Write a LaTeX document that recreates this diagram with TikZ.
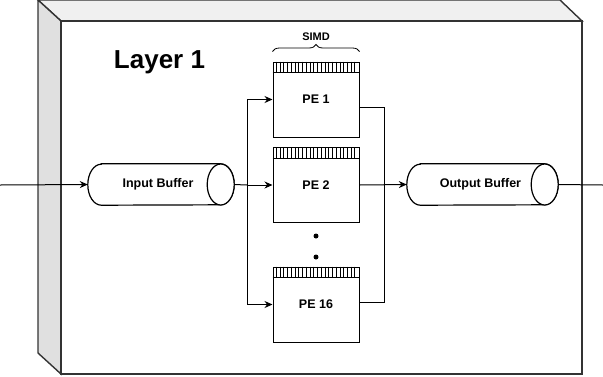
\documentclass[tikz,border=0pt]{standalone}
\usepackage{fontspec}
\setmainfont{Liberation Sans}
\usetikzlibrary{arrows.meta,decorations.pathreplacing,calc}
\definecolor{edge}{HTML}{333333}
\definecolor{topface}{HTML}{F0F0F0}
\definecolor{sideface}{HTML}{E0E0E0}
\tikzset{
  cubeline/.style={draw=edge,line width=1.4pt,line join=miter},
  buffer/.style={rectangle,minimum width=146pt,minimum height=41pt,inner sep=0pt},
  bufline/.style={draw=black,line width=1.2pt,fill=white},
  buftext/.style={font=\bfseries\fontsize{12.5}{14}\selectfont},
  pebox/.style={draw=black,line width=1pt,minimum width=86pt,minimum height=75pt,inner sep=0pt,font=\bfseries\fontsize{12.5}{14}\selectfont,fill=white},
  wire/.style={draw=black,line width=1pt},
  arr/.style={wire,-{Stealth[length=8pt,width=7pt]}},
  dot/.style={circle,fill=black,inner sep=0pt,minimum size=5pt}
}
\newcommand{\drawbuffer}[1]{%
  \path[bufline] ($(#1.north west)+(13.5,0)$) -- ($(#1.north east)+(-13.5,0)$)
    arc[start angle=-90,end angle=90,x radius=13.5,y radius=20.5]
    -- ($(#1.south west)+(13.5,0)$)
    arc[start angle=90,end angle=270,x radius=13.5,y radius=20.5] -- cycle;
  \path[bufline] ($(#1.east)+(-13.5,0)$) ellipse[x radius=13.5,y radius=20.5];
}
\begin{document}
\begin{tikzpicture}[x=1pt,y=-1pt]
\useasboundingbox (0,0) rectangle (603,376);
% cube
\path[cubeline,fill=topface] (38,0) -- (560,0) -- (582,21) -- (61,21) -- cycle;
\path[cubeline,fill=sideface] (38,0) -- (61,21) -- (61,374) -- (38,353) -- cycle;
\path[cubeline,fill=white] (61,21) rectangle (582,374);
\node[font=\bfseries\fontsize{26}{28}\selectfont] (title) at (159.5,62) {Layer 1};
% buffers
\node[buffer] (inb) at (161,184.5) {};
\node[buffer,minimum width=151pt] (outb) at (482.5,184.5) {};
\drawbuffer{inb}
\drawbuffer{outb}
\node[buftext] (inbt) at ([xshift=-3pt]inb.center) {Input Buffer};
\node[buftext] (outbt) at ([xshift=-2pt]outb.center) {Output Buffer};
% PEs
\node[pebox] (pe1) at (316,99.5) {PE 1};
\node[pebox] (pe2) at (316,185) {PE 2};
\node[pebox] (pe16) at (316,304.5) {PE 16};
\foreach \p in {pe1,pe2,pe16}{
  \draw[line width=1pt] ($(\p.north west)+(0,11)$) -- ($(\p.north east)+(0,11)$);
  \foreach \i in {1,...,22}{
    \draw[line width=0.6pt] ($(\p.north west)+(\i*86/23,0)$) -- ++(0,11);
  }
}
\node[dot] (d1) at (316,236) {};
\node[dot] (d2) at (316,257) {};
% brace
\draw[decorate,decoration={brace,amplitude=7pt},line width=0.8pt] ($(pe1.north west)+(0,-10)$) -- ($(pe1.north east)+(0,-10)$) node[midway,above=7pt,font=\bfseries\fontsize{11}{13}\selectfont] (simd) {SIMD};
% connectors
\coordinate (inl) at (0,185);
\coordinate (outr) at (603,185);
\coordinate (split) at (247,185);
\coordinate (merge) at (384,185);
\draw[arr] (inl) -- (inb.west);
\draw[wire] (inb.east) -- (split);
\draw[arr] (split) -- (pe2.west);
\draw[arr] (split) |- (pe1.west);
\draw[arr] (split) |- (pe16.west);
\draw[wire] ([yshift=-7.5pt]pe1.east) -| (merge);
\draw[wire] ([yshift=2.5pt]pe16.east) -| (merge);
\draw[arr] (pe2.east) -- (outb.west);
\draw[wire] (outb.east) -- (outr);
\end{tikzpicture}
\end{document}
